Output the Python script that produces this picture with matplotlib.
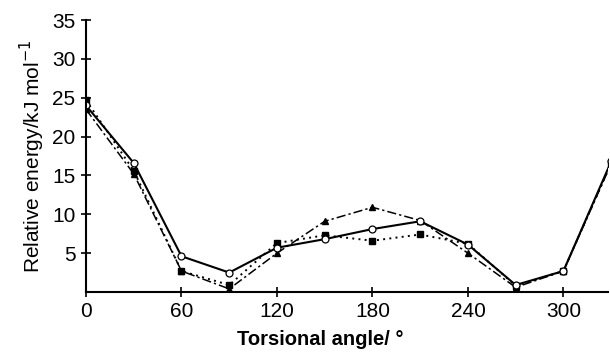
import matplotlib
matplotlib.use("Agg")
import matplotlib.pyplot as plt

angles = [0, 30, 60, 90, 120, 150, 180, 210, 240, 270, 300, 330]
circle_vals = [24.0, 16.6, 4.6, 2.5, 5.7, 6.8, 8.1, 9.1, 6.1, 0.9, 2.7, 16.8]
square_vals = [24.7, 15.6, 2.7, 0.9, 6.3, 7.3, 6.6, 7.4, 6.2, 0.8, 2.7, 16.6]
triangle_vals = [23.5, 15.2, 2.7, 0.4, 5.0, 9.1, 10.9, 9.2, 5.0, 0.6, 2.7, 16.5]
xticks = [0, 60, 120, 180, 240, 300]
yticks = [5, 10, 15, 20, 25, 30, 35]

plt.rcParams['font.family'] = ['Liberation Sans', 'DejaVu Sans']

fig = plt.figure(figsize=(6.1, 3.53), dpi=100)
ax = fig.add_axes([0.141, 0.1728, 0.8557, 0.7705])

ax.plot(angles, triangle_vals, color='black', lw=1.1, ls=(0, (6, 2, 1.5, 2)),
        marker='^', ms=4.5, mfc='black', mec='black', clip_on=True)
ax.plot(angles, square_vals, color='black', lw=1.4, ls=(0, (1, 2.2)),
        marker='s', ms=5, mfc='black', mec='black', clip_on=True)
ax.plot(angles, circle_vals, color='black', lw=1.5, ls='-',
        marker='o', ms=5, mfc='white', mec='black', mew=0.9, clip_on=True)

ax.set_xlim(0, 328)
ax.set_ylim(0, 35)
ax.set_xticks(xticks)
ax.set_yticks(yticks)
ax.spines['top'].set_visible(False)
ax.spines['right'].set_visible(False)
ax.spines['left'].set_linewidth(1.5)
ax.spines['bottom'].set_linewidth(1.5)
ax.tick_params(direction='inout', length=7, width=1.2, labelsize=15, pad=4)
ax.set_xlabel('Torsional angle/ °', fontsize=14.5, fontweight='bold')
ax.xaxis.set_label_coords(0.448, -0.138)
ax.set_ylabel('Relative energy/kJ mol$^{-1}$', fontsize=15, labelpad=4)

fig.savefig('out.png', dpi=100)
